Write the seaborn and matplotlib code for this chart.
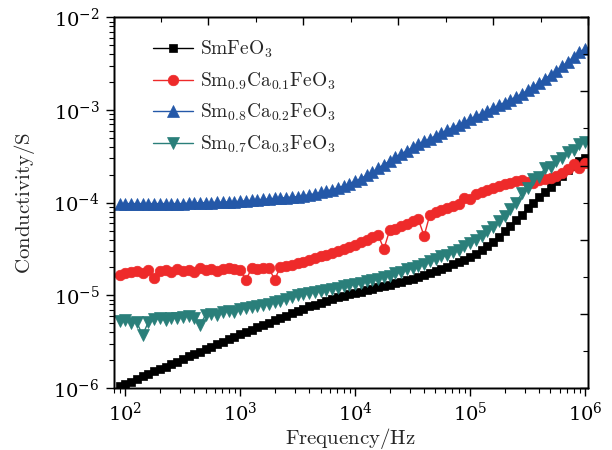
import numpy as np
import pandas as pd
import matplotlib
matplotlib.use("Agg")
import matplotlib.pyplot as plt
import matplotlib.ticker as mticker
import seaborn as sns

# ---- data (log10 of frequency grid, log10 of conductivity) ----
log_freq = np.round(np.arange(1.95, 6.001, 0.05), 2)

log_sm = [-5.98, -5.955, -5.93, -5.90, -5.875, -5.85, -5.82, -5.795, -5.77, -5.74,
          -5.715, -5.69, -5.66, -5.635, -5.61, -5.58, -5.555, -5.53, -5.50, -5.475,
          -5.45, -5.42, -5.395, -5.37, -5.345, -5.32, -5.295, -5.27, -5.245, -5.22,
          -5.195, -5.17, -5.145, -5.12, -5.10, -5.08, -5.06, -5.04, -5.02, -5.005,
          -4.99, -4.975, -4.96, -4.945, -4.93, -4.915, -4.90, -4.885, -4.87, -4.855,
          -4.84, -4.82, -4.80, -4.78, -4.76, -4.74, -4.715, -4.69, -4.665, -4.64,
          -4.615, -4.585, -4.55, -4.51, -4.47, -4.42, -4.37, -4.31, -4.25, -4.19,
          -4.13, -4.06, -4.00, -3.94, -3.88, -3.83, -3.77, -3.71, -3.65, -3.60,
          -3.55, -3.52]

log_ca01 = [-4.78, -4.76, -4.75, -4.74, -4.76, -4.73, -4.81, -4.74, -4.73, -4.75,
            -4.72, -4.74, -4.73, -4.75, -4.71, -4.73, -4.72, -4.74, -4.72, -4.70,
            -4.72, -4.73, -4.83, -4.71, -4.72, -4.70, -4.71, -4.83, -4.69, -4.68,
            -4.67, -4.65, -4.64, -4.62, -4.60, -4.58, -4.56, -4.54, -4.52, -4.50,
            -4.48, -4.46, -4.43, -4.40, -4.37, -4.35, -4.50, -4.30, -4.28, -4.25,
            -4.23, -4.20, -4.18, -4.36, -4.13, -4.10, -4.08, -4.06, -4.04, -4.01,
            -3.95, -3.96, -3.91, -3.88, -3.86, -3.84, -3.82, -3.80, -3.79, -3.77,
            -3.76, -3.78, -3.79, -3.76, -3.75, -3.73, -3.71, -3.68, -3.64, -3.58,
            -3.63, -3.57]

log_ca02 = [-4.01, -4.01, -4.01, -4.01, -4.01, -4.01, -4.01, -4.01, -4.01, -4.01,
            -4.01, -4.01, -4.005, -4.005, -4.0, -4.0, -4.0, -3.995, -3.995, -3.99,
            -3.99, -3.985, -3.98, -3.975, -3.97, -3.965, -3.96, -3.955, -3.95, -3.945,
            -3.94, -3.935, -3.925, -3.915, -3.905, -3.89, -3.875, -3.86, -3.84, -3.82,
            -3.795, -3.77, -3.74, -3.705, -3.67, -3.63, -3.59, -3.55, -3.51, -3.475,
            -3.44, -3.405, -3.37, -3.34, -3.31, -3.28, -3.25, -3.22, -3.19, -3.16,
            -3.13, -3.10, -3.07, -3.04, -3.01, -2.98, -2.95, -2.92, -2.89, -2.86,
            -2.825, -2.79, -2.75, -2.71, -2.665, -2.62, -2.575, -2.53, -2.48, -2.43,
            -2.38, -2.34]

log_ca03 = [-5.28, -5.27, -5.30, -5.29, -5.43, -5.29, -5.26, -5.25, -5.27, -5.24,
            -5.25, -5.23, -5.22, -5.24, -5.32, -5.21, -5.20, -5.21, -5.18, -5.17,
            -5.18, -5.15, -5.14, -5.13, -5.11, -5.10, -5.09, -5.07, -5.06, -5.04,
            -5.02, -5.00, -4.99, -4.97, -4.96, -4.95, -4.94, -4.93, -4.92, -4.90,
            -4.89, -4.88, -4.87, -4.85, -4.84, -4.82, -4.80, -4.79, -4.76, -4.75,
            -4.72, -4.71, -4.68, -4.66, -4.63, -4.61, -4.58, -4.57, -4.53, -4.51,
            -4.47, -4.44, -4.40, -4.36, -4.31, -4.26, -4.20, -4.14, -4.07, -4.00,
            -3.90, -3.84, -3.74, -3.72, -3.63, -3.62, -3.55, -3.52, -3.45, -3.43,
            -3.37, -3.35]

labels = [r"$\mathrm{SmFeO_3}$",
          r"$\mathrm{Sm_{0.9}Ca_{0.1}FeO_3}$",
          r"$\mathrm{Sm_{0.8}Ca_{0.2}FeO_3}$",
          r"$\mathrm{Sm_{0.7}Ca_{0.3}FeO_3}$"]
series = [log_sm, log_ca01, log_ca02, log_ca03]
colors = ["#000000", "#EE2A2A", "#2458A8", "#2A7F7A"]
markers = ["s", "o", "^", "v"]
msizes = [5.4, 7.6, 8.6, 8.8]

# ---- style ----
sns.set_style("ticks")
plt.rcParams["mathtext.fontset"] = "cm"
plt.rcParams["font.family"] = ["DejaVu Serif"]
plt.rcParams["axes.linewidth"] = 1.0
plt.rcParams["xtick.major.width"] = 1.0
plt.rcParams["ytick.major.width"] = 1.0
plt.rcParams["xtick.minor.width"] = 0.8
plt.rcParams["ytick.minor.width"] = 0.8
plt.rcParams["xtick.color"] = "black"
plt.rcParams["ytick.color"] = "black"
plt.rcParams["axes.edgecolor"] = "black"

fig = plt.figure(figsize=(6.12, 4.5), dpi=100)
ax = fig.add_axes([0.1855, 0.1378, 0.7753, 0.8238])

freq = 10 ** log_freq
for lab, vals, col, mk, ms in zip(labels, series, colors, markers, msizes):
    df = pd.DataFrame({"f": freq, "s": 10 ** np.array(vals)})
    sns.lineplot(data=df, x="f", y="s", ax=ax, color=col, marker=mk,
                 markersize=ms, markeredgecolor=col, markeredgewidth=0.5,
                 linewidth=1.0, label=lab, sort=False)

ax.set_xscale("log")
ax.set_yscale("log")
ax.set_xlim(79, 1.062e6)
ax.set_ylim(1e-6, 1e-2)
ax.xaxis.set_major_locator(mticker.LogLocator(base=10, numticks=10))
ax.xaxis.set_minor_locator(mticker.LogLocator(base=10, subs=np.arange(2, 10), numticks=20))
ax.yaxis.set_major_locator(mticker.LogLocator(base=10, numticks=10))
ax.yaxis.set_minor_locator(mticker.LogLocator(base=10, subs=np.arange(2, 10), numticks=20))
ax.xaxis.set_minor_formatter(mticker.NullFormatter())
ax.yaxis.set_minor_formatter(mticker.NullFormatter())
ax.tick_params(which="major", direction="out", length=6, labelsize=14, pad=4)
ax.tick_params(which="minor", direction="out", length=3.5)
ax.set_xlabel(r"$\mathrm{Frequency/Hz}$", fontsize=15, labelpad=1)
ax.set_ylabel(r"$\mathrm{Conductivity/S}$", fontsize=15, labelpad=12)

# secondary top / right axes with their own evenly spaced inward ticks
axt = ax.twiny()
axt.set_xlim(0, 1)
axt.xaxis.set_major_locator(mticker.MultipleLocator(0.2))
axt.xaxis.set_minor_locator(mticker.MultipleLocator(0.1))
axt.tick_params(axis="x", which="major", direction="in", length=6, labeltop=False)
axt.tick_params(axis="x", which="minor", direction="in", length=3.5)
axr = ax.twinx()
axr.set_ylim(0, 1)
axr.yaxis.set_major_locator(mticker.MultipleLocator(0.2))
axr.yaxis.set_minor_locator(mticker.MultipleLocator(0.1))
axr.tick_params(axis="y", which="major", direction="in", length=6, labelright=False)
axr.tick_params(axis="y", which="minor", direction="in", length=3.5)
for a in (axt, axr):
    for sp in a.spines.values():
        sp.set_linewidth(1.0)

leg = ax.legend(loc="upper left", bbox_to_anchor=(0.075, 0.952), frameon=False,
                fontsize=14, handlelength=2.06, handletextpad=0.36,
                labelspacing=0.52, borderpad=0.2, borderaxespad=0)

fig.savefig("out.png", dpi=100)
